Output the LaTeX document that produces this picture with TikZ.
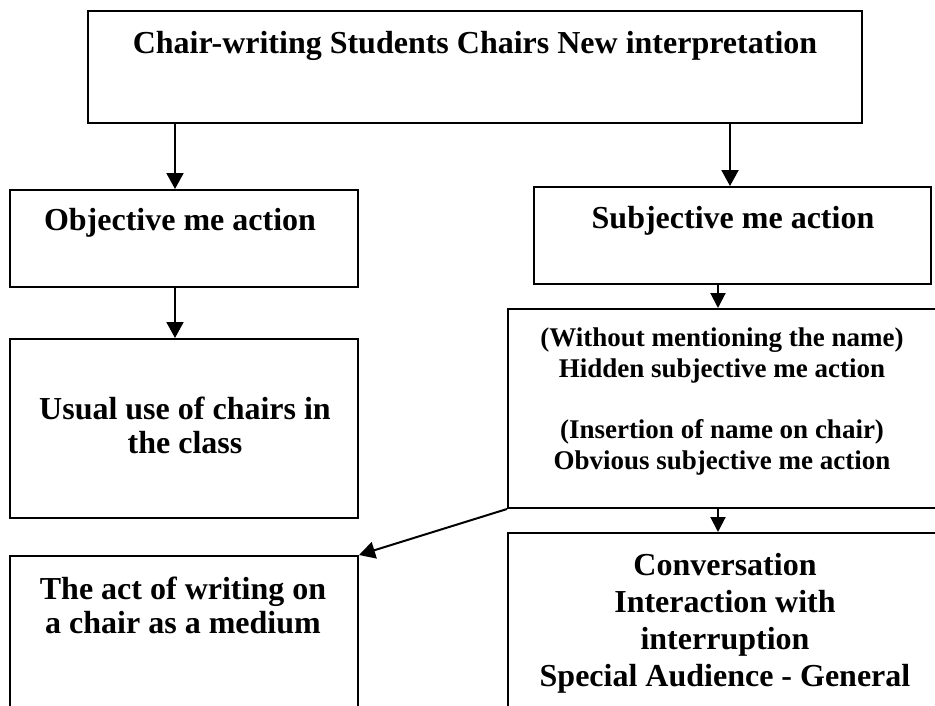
\documentclass[tikz,border=0pt]{standalone}
\usepackage{fontspec}
\setmainfont{Liberation Serif}
\usetikzlibrary{arrows.meta}
\begin{document}
\begin{tikzpicture}[x=1pt,y=-1pt,
  box/.style={draw=black,line width=2pt,fill=none,inner sep=0pt},
  lbl/.style={font=\bfseries\fontsize{32}{37}\selectfont,align=center,inner sep=0pt},
  arr/.style={line width=2pt,-{Triangle[length=16pt,width=17pt]}},
  sarr/.style={line width=2pt,-{Triangle[length=15pt,width=15pt]}}]
\useasboundingbox (0,0) rectangle (935,705);
\clip (0,0) rectangle (935,705);
\fill[white] (0,0) rectangle (935,705);
% boxes
\node[box,minimum width=774pt,minimum height=112pt] (topb) at (475,67) {};
\node[box,minimum width=348pt,minimum height=97pt] (obj) at (184,238.5) {};
\node[box,minimum width=397pt,minimum height=97pt] (subj) at (732.5,235.5) {};
\node[box,minimum width=348pt,minimum height=179pt] (usual) at (184,428.5) {};
\node[box,minimum width=432pt,minimum height=199pt] (without) at (724,408.5) {};
\node[box,minimum width=348pt,minimum height=164pt] (act) at (184,638) {};
\node[box,minimum width=432pt,minimum height=187pt] (conv) at (724,626.5) {};
% texts
\node[lbl] (t1) at (475,46) {Chair-writing Students Chairs New interpretation};
\node[lbl] (t2) at (180,223) {Objective me action};
\node[lbl] (t3) at (733,221) {Subjective me action};
\node[lbl,font=\bfseries\fontsize{32}{34}\selectfont] (t4) at (185,425) {Usual use of chairs in\\the class};
\node[lbl,font=\bfseries\fontsize{27}{31}\selectfont] (t5) at (722,401) {(Without mentioning the name)\\Hidden subjective me action\\[30pt](Insertion of name on chair)\\Obvious subjective me action};
\node[lbl,font=\bfseries\fontsize{32}{34}\selectfont] (t6) at (183,605) {The act of writing on\\a chair as a medium};
\node[lbl,font=\bfseries\fontsize{32}{37}\selectfont] (t7) at (725,623) {Conversation\\Interaction with\\interruption\\Special Audience - General};
% connectors
\draw[arr] (topb.south -| 175,0) -- (obj.north -| 175,0);
\draw[arr] (topb.south -| 730,0) -- (subj.north -| 730,0);
\draw[arr] (obj.south -| 175,0) -- (usual.north -| 175,0);
\draw[sarr] (subj.south -| 718,0) -- (without.north -| 718,0);
\draw[sarr] (without.south -| 718,0) -- (conv.north -| 718,0);
\draw[arr] (without.south west) -- (act.north east);
\end{tikzpicture}
\end{document}
